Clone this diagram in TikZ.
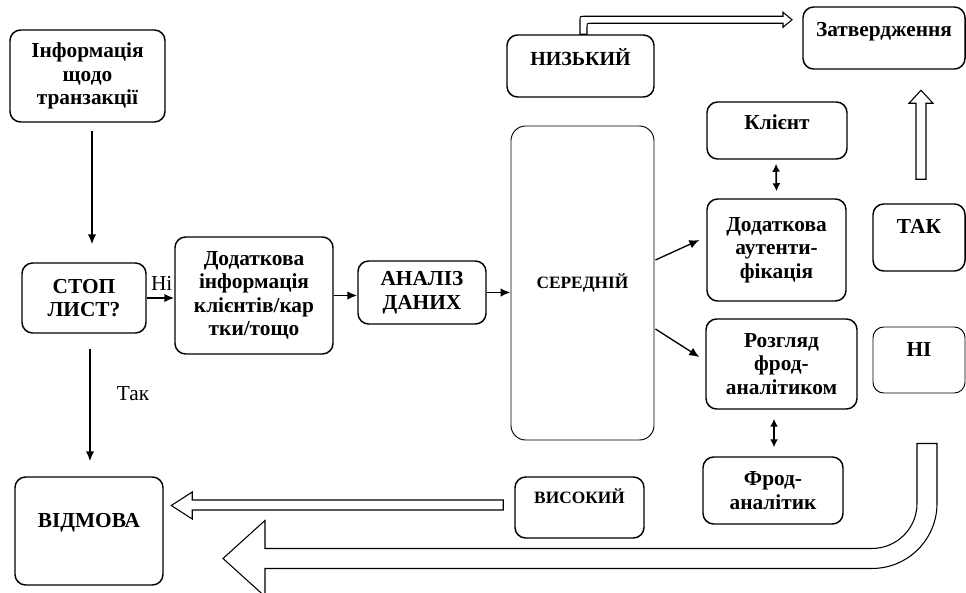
\documentclass[tikz,border=0pt]{standalone}
\usepackage{fontspec}
\setmainfont{Liberation Serif}
\usetikzlibrary{calc,arrows.meta}
\begin{document}
\begin{tikzpicture}[x=0.75pt,y=-0.75pt,
  font=\fontsize{16pt}{17.6pt}\selectfont\bfseries,
  box/.style={draw, line width=1.1pt, rounded corners=8pt, inner sep=0pt, align=center},
  thinbox/.style={box, line width=0.7pt},
  sz/.style 2 args={minimum width=#1*0.75pt, minimum height=#2*0.75pt},
  lbl/.style={inner sep=0pt, align=center},
  plain/.style={lbl, font=\fontsize{16pt}{17.6pt}\selectfont\mdseries},
  arr/.style={line width=1.3pt, -{Latex[length=7.5pt,width=6.5pt]}},
  darr/.style={line width=1.3pt, {Latex[length=6pt,width=6pt]}-{Latex[length=6pt,width=6pt]}},
  hollow/.style={draw, line width=0.8pt, fill=white, line join=miter}
]
\useasboundingbox (0,0) rectangle (966,592);

% --- boxes ---
\node[box, sz={155}{92}] (info) at (87.5,76) {Інформація\\щодо\\транзакції};
\node[box, sz={124}{70}] (stop) at (84,298) {СТОП\\ЛИСТ?};
\node[box, sz={158}{117}] (extra) at (254,295.5) {Додаткова\\інформація\\клієнтів/кар\\тки/тощо};
\node[box, sz={128}{63}] (analysis) at (422,292.5) {АНАЛІЗ\\ДАНИХ};
\node[thinbox, rounded corners=11pt, sz={143}{314},
      font=\fontsize{13pt}{15pt}\selectfont\bfseries] (mid) at (582.5,283) {СЕРЕДНІЙ};

\node[box, sz={147}{62}] (low) at (580.5,66) {};
\node[lbl, font=\fontsize{15pt}{17pt}\selectfont\bfseries] (lowT) at ($(low.north)+(0,23)$) {НИЗЬКИЙ};
\node[box, sz={162}{62}] (appr) at (884,38) {};
\node[lbl] (apprT) at ($(appr.north)+(0,25)$) {Затвердження};
\node[box, sz={140}{57}] (client) at (777,130.5) {};
\node[lbl] (clientT) at ($(client.north)+(0,21)$) {Клієнт};
\node[box, sz={139}{102}] (auth) at (776.5,250) {Додаткова\\аутенти-\\фікація};
\node[box, sz={151}{90}] (review) at (781.5,364) {Розгляд\\фрод-\\аналітиком};
\node[box, sz={92}{67}] (yes) at (919,237.5) {};
\node[lbl] (yesT) at ($(yes.north)+(0,23)$) {ТАК};
\node[thinbox, sz={92}{66}] (no) at (919,360) {};
\node[lbl] (noT) at ($(no.north)+(0,23)$) {НІ};
\node[box, sz={140}{67}] (fraud) at (773,490.5) {Фрод-\\аналітик};
\node[box, sz={129}{61}] (high) at (579.5,507.5) {};
\node[lbl, font=\fontsize{13pt}{15pt}\selectfont\bfseries] (highT) at ($(high.north)+(0,20)$) {ВИСОКИЙ};
\node[box, sz={148}{108}] (refuse) at (89,531) {};
\node[lbl] (refuseT) at ($(refuse.north)+(0,46)$) {ВІДМОВА};

% --- plain connectors ---
\draw[arr] ($(info.south)+(4.5,8)$) -- ($(stop.north)+(8,-18)$);
\draw[arr] (stop.east) -- (stop.east -| extra.west);
\node[plain] (noLbl) at ($(stop.east)+(15,-15)$) {Ні};
\draw[arr] (extra.east) -- (extra.east -| analysis.west);
\draw[arr] (analysis.east) -- (analysis.east -| mid.west);
\draw[arr, line width=1pt] ($(mid.east)+(1,-23)$) -- ($(auth.west)+(-7,-10)$);
\draw[arr, line width=1pt] ($(mid.east)+(1,46)$) -- ($(review.west)+(-6,-7)$);
\draw[darr] ($(client.south)+(-1,4)$) -- ($(auth.north)+(0,-7)$);
\draw[darr] ($(review.south)+(-7.5,9)$) -- ($(fraud.north)+(1,-9)$);
\draw[arr] ($(stop.south)+(6,15)$) -- ($(refuse.north)+(1,-15)$);
\node[plain] (yesLbl) at ($(stop.south)+(49,60)$) {Так};

% --- block arrows ---
% low -> approval
\draw[hollow] ($(low.north)+(-0.5,0)$) -- ++(0,-14)
  .. controls +(0,-4) and +(-4,0) .. ++(4,-4)
  -- ++(199,0) -- ++(0,-4) -- ++(9,7.5) -- ++(-9,7.5) -- ++(0,-4)
  -- ++(-192,0) .. controls +(-4,0) and +(0,-4) .. ++(-4,4)
  -- ++(0,7) -- cycle;
% yes -> approval
\draw[hollow] ($(yes.north)+(-3,-24)$) -- ++(0,-76) -- ++(-7,0) -- ++(12,-13)
  -- ++(12,13) -- ++(-7,0) -- ++(0,76) -- cycle;
% high -> refusal
\draw[hollow] ($(high.west)+(-11,-7.5)$) -- ++(-311,0) -- ++(0,-8) -- ++(-21,13.5)
  -- ++(21,13.5) -- ++(0,-9) -- ++(311,0) -- cycle;
% no -> refusal (U-turn)
\draw[hollow] ($(no.south)+(-2,50)$) -- ++(20,0) -- ++(0,60)
  .. controls +(0,35.9) and +(35.9,0) .. ++(-65,65)
  -- ++(-607,0) -- ++(0,28) -- ++(-42,-38) -- ++(42,-38) -- ++(0,28)
  -- ++(607,0) .. controls +(24.85,0) and +(0,24.85) .. ++(45,-45)
  -- cycle;
\end{tikzpicture}
\end{document}
